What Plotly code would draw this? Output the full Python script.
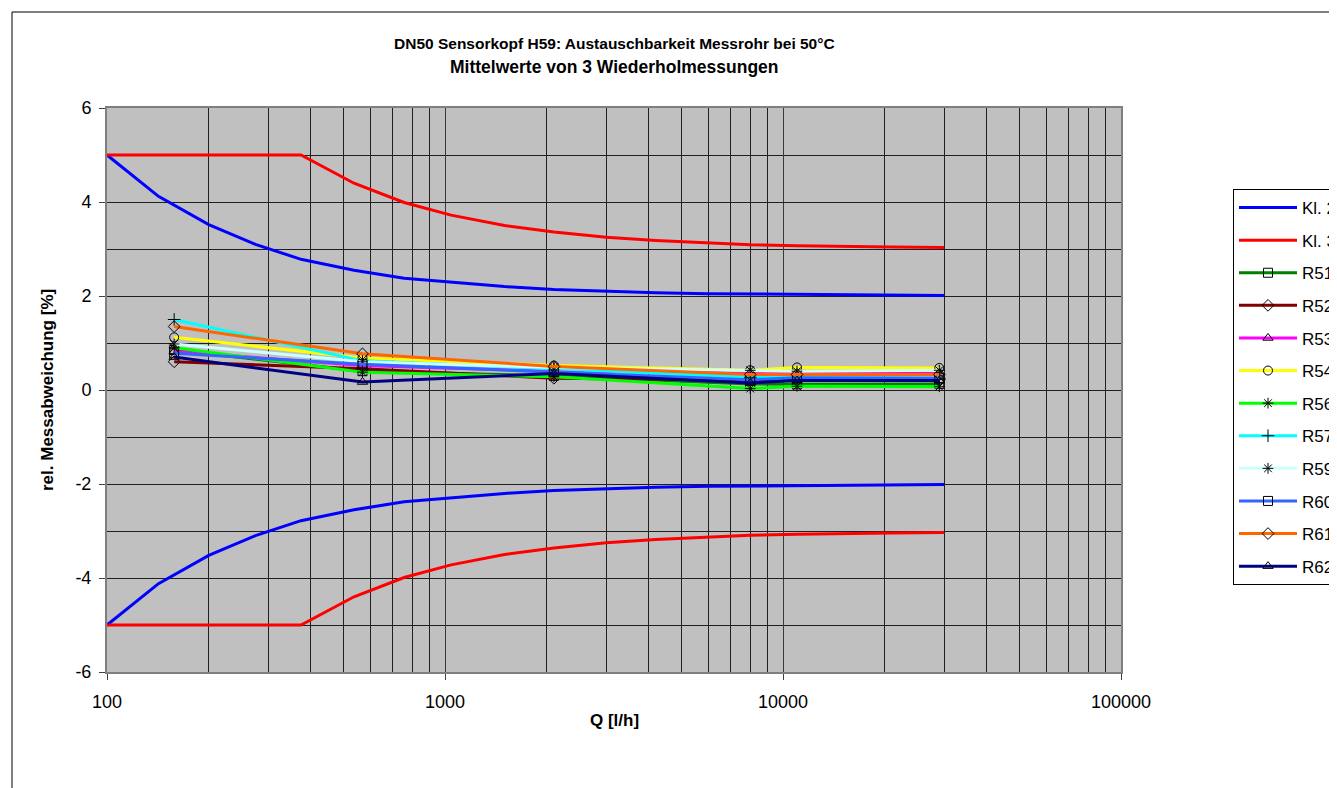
import plotly.graph_objects as go

# ---------------- data ----------------
q_limit = [100, 142, 200, 275, 375, 538, 757, 1042, 1500, 2100, 3000, 4200, 6000, 8000, 11000, 15000, 21000, 30000]
kl2_upper = [5.0, 4.12, 3.52, 3.10, 2.78, 2.55, 2.38, 2.29, 2.20, 2.14, 2.10, 2.07, 2.05, 2.04, 2.03, 2.02, 2.01, 2.01]
kl2_lower = [-5.0, -4.12, -3.52, -3.10, -2.78, -2.55, -2.38, -2.29, -2.20, -2.14, -2.10, -2.07, -2.05, -2.04, -2.03, -2.02, -2.01, -2.01]
kl3_upper = [5.0, 5.0, 5.0, 5.0, 5.0, 4.40, 3.99, 3.72, 3.50, 3.36, 3.25, 3.18, 3.13, 3.09, 3.07, 3.05, 3.04, 3.03]
kl3_lower = [-5.0, -5.0, -5.0, -5.0, -5.0, -4.40, -3.99, -3.72, -3.50, -3.36, -3.25, -3.18, -3.13, -3.09, -3.07, -3.05, -3.04, -3.03]

q_meas = [158, 570, 2100, 8000, 11000, 29000]
series_names = ["R51", "R52", "R53", "R54", "R56", "R57", "R59", "R60", "R61", "R62"]
r51 = [0.85, 0.40, 0.30, 0.13, 0.12, 0.13]
r52 = [0.60, 0.45, 0.25, 0.20, 0.20, 0.22]
r53 = [0.82, 0.52, 0.40, 0.38, 0.40, 0.35]
r54 = [1.12, 0.68, 0.52, 0.42, 0.48, 0.47]
r56 = [0.90, 0.38, 0.28, 0.03, 0.08, 0.07]
r57 = [1.50, 0.62, 0.45, 0.27, 0.27, 0.25]
r59 = [0.98, 0.60, 0.48, 0.42, 0.40, 0.42]
r60 = [0.78, 0.55, 0.38, 0.22, 0.26, 0.25]
r61 = [1.35, 0.77, 0.50, 0.33, 0.33, 0.33]
r62 = [0.70, 0.17, 0.35, 0.15, 0.20, 0.20]
series_values = [r51, r52, r53, r54, r56, r57, r59, r60, r61, r62]

x_tickvals = [100, 1000, 10000, 100000]
x_ticktext = ["100", "1000", "10000", "100000"]
y_tickvals = [-6, -4, -2, 0, 2, 4, 6]
y_ticktext = ["-6", "-4", "-2", "0", "2", "4", "6"]

title_line1 = "DN50 Sensorkopf H59: Austauschbarkeit Messrohr bei 50°C"
title_line2 = "Mittelwerte von 3 Wiederholmessungen"

# ---------------- styles ----------------
series_colors = ["#008000", "#800000", "#FF00FF", "#FFFF00", "#00FF00",
                 "#00FFFF", "#CCFFFF", "#3366FF", "#FF6600", "#000080"]
series_symbols = ["square-open", "diamond-open", "triangle-up-open", "circle-open",
                  "asterisk-open", "cross-thin-open", "asterisk-open", "square-open",
                  "diamond-open", "triangle-up-open"]

FONT = "Liberation Sans, Arial, sans-serif"

fig = go.Figure()

fig.add_trace(go.Scatter(x=q_limit, y=kl2_upper, mode="lines", name="Kl. 2",
                         legendgroup="kl2", line=dict(color="#0000FF", width=3)))
fig.add_trace(go.Scatter(x=q_limit, y=kl2_lower, mode="lines", name="Kl. 2",
                         legendgroup="kl2", showlegend=False, line=dict(color="#0000FF", width=3)))
fig.add_trace(go.Scatter(x=q_limit, y=kl3_upper, mode="lines", name="Kl. 3",
                         legendgroup="kl3", line=dict(color="#FF0000", width=3)))
fig.add_trace(go.Scatter(x=q_limit, y=kl3_lower, mode="lines", name="Kl. 3",
                         legendgroup="kl3", showlegend=False, line=dict(color="#FF0000", width=3)))

for name, vals, col, sym in zip(series_names, series_values, series_colors, series_symbols):
    fig.add_trace(go.Scatter(
        x=q_meas, y=vals, mode="lines+markers", name=name, legendgroup=name,
        line=dict(color=col, width=3),
        marker=dict(symbol=sym, size=9, color="black", line=dict(color="black", width=1)),
    ))

# page body has an 8px margin: layout pixel = screen pixel - 8
OFF = 8
W, H = 1337 - OFF, 788 - OFF
L, T = 107 - OFF, 108 - OFF
pw, ph = 1014, 564
R = W - L - pw
B = H - T - ph

def px_x(p):
    return (p - OFF - L) / pw

def px_y(p):
    return (T + ph - (p - OFF)) / ph

fig.update_layout(
    width=W, height=H,
    margin=dict(l=L, r=R, t=T, b=B, autoexpand=False),
    paper_bgcolor="white",
    plot_bgcolor="#C0C0C0",
    font=dict(family=FONT, size=18, color="black"),
    showlegend=True,
    legend=dict(
        x=px_x(1233), y=px_y(189), xanchor="left", yanchor="top",
        bgcolor="white", bordercolor="black", borderwidth=1,
        font=dict(family=FONT, size=17, color="black"),
        tracegroupgap=7.5,
        itemwidth=58,
    ),
    xaxis=dict(
        type="log", range=[2, 5],
        tickvals=x_tickvals, ticktext=x_ticktext,
        ticks="outside", ticklen=6, tickcolor="#404040",
        ticklabelstandoff=6,
        showline=True, linecolor="#7f7f7f", linewidth=2, mirror=True,
        showgrid=True, gridcolor="#3a3a3a", gridwidth=1,
        minor=dict(dtick="D1", showgrid=True, gridcolor="#202020", gridwidth=1, ticks=""),
        tickfont=dict(size=18),
        zeroline=False,
    ),
    yaxis=dict(
        range=[-6, 6],
        tickvals=y_tickvals, ticktext=y_ticktext,
        ticks="outside", ticklen=6, tickcolor="#404040",
        ticklabelstandoff=4,
        showline=True, linecolor="#7f7f7f", linewidth=2, mirror=True,
        showgrid=True, gridcolor="#202020", gridwidth=1,
        minor=dict(dtick=1, showgrid=True, gridcolor="#202020", gridwidth=1, ticks=""),
        tickfont=dict(size=18),
        zeroline=False,
    ),
    annotations=[
        dict(text="<b>" + title_line1 + "</b>", xref="paper", yref="paper", x=0.5, y=px_y(43),
             xanchor="center", yanchor="middle", showarrow=False,
             font=dict(family=FONT, size=15.5, color="black")),
        dict(text="<b>" + title_line2 + "</b>", xref="paper", yref="paper", x=0.5, y=px_y(67),
             xanchor="center", yanchor="middle", showarrow=False,
             font=dict(family=FONT, size=17.5, color="black")),
        dict(text="<b>Q [l/h]</b>", xref="paper", yref="paper", x=0.5, y=px_y(720),
             xanchor="center", yanchor="middle", showarrow=False,
             font=dict(family=FONT, size=17, color="black")),
        dict(text="<b>rel. Messabweichung [%]</b>", xref="paper", yref="paper",
             x=px_x(47), y=0.5, xanchor="center", yanchor="middle", textangle=-90,
             showarrow=False, font=dict(family=FONT, size=17, color="black")),
    ],
    shapes=[
        dict(type="rect", xref="paper", yref="paper",
             x0=px_x(12), x1=px_x(1350), y0=px_y(800), y1=px_y(12),
             line=dict(color="black", width=1), fillcolor="rgba(0,0,0,0)", layer="above"),
    ],
)

fig.write_html("out.html")
